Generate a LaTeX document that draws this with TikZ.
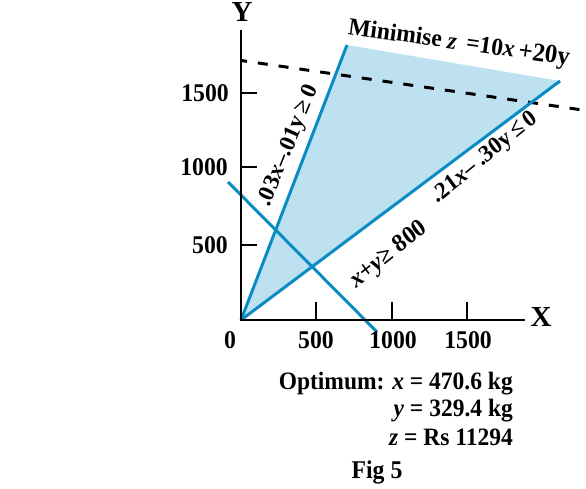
\documentclass[tikz,border=0pt]{standalone}
\usepackage{fontspec}
\setmainfont{Liberation Serif}
\definecolor{lpblue}{RGB}{10,140,195}
\definecolor{lpfill}{RGB}{190,225,242}
\begin{document}
\begin{tikzpicture}[x=1pt,y=-1pt,
  axis/.style={line width=2.6pt,black},
  tick/.style={line width=2.4pt,black},
  cline/.style={line width=3pt,lpblue},
  lbl/.style={font=\fontsize{25.5}{27}\selectfont\bfseries,inner sep=0pt,xscale=0.93},
  axl/.style={font=\fontsize{29}{30}\selectfont\bfseries,inner sep=0pt},
  rlbl/.style={font=\fontsize{24}{26}\selectfont\bfseries,inner sep=0pt,xscale=0.95},
  res/.style={font=\fontsize{25}{27}\selectfont\bfseries,inner sep=0pt,anchor=east,xscale=0.94}]
\useasboundingbox (0,0) rectangle (586,489);
% key points
\coordinate (O) at (241,320);
\coordinate (Ytop) at (241,30);
\coordinate (Xend) at (525,320);
\coordinate (A) at (347,45);
\coordinate (B) at (560,81);
\coordinate (P1) at (228,182);
\coordinate (P2) at (377,332);
\coordinate (D1) at (241,60.5);
\coordinate (D2) at (586,110.5);
% feasible region
\fill[lpfill] (O) -- (A) -- (B) -- cycle;
% objective line (dashed)
\draw[line width=3pt,black,dash pattern=on 10pt off 11pt,dash phase=4pt] (D1) -- (D2);
% constraint lines
\draw[cline] (O) -- (A);
\draw[cline] (O) -- (B);
\draw[cline] (P1) -- (P2);
% axes
\draw[axis] (Ytop) -- (O) -- (Xend);
\foreach \n/\y in {t15/93,t10/167,t05/245}{
  \coordinate (\n a) at (241,\y); \coordinate (\n b) at (257,\y);
  \draw[tick] (\n a) -- (\n b);}
\foreach \n/\x in {s05/316,s10/392,s15/467}{
  \coordinate (\n a) at (\x,320); \coordinate (\n b) at (\x,302);
  \draw[tick] (\n a) -- (\n b);}
% axis labels
\node[axl] (Ylab) at (242,12) {Y};
\node[axl] (Xlab) at (541,317) {X};
\node[lbl,anchor=east] (y15) at (229,93) {1500};
\node[lbl,anchor=east] (y10) at (228,167) {1000};
\node[lbl,anchor=east] (y05) at (228,245) {500};
\node[lbl] (x0) at (230,340) {0};
\node[lbl] (x05) at (316,340) {500};
\node[lbl] (x10) at (393,340) {1000};
\node[lbl] (x15) at (468,340) {1500};
% line labels
\node[rlbl,rotate=67] (c1) at (289,146) {.03\textit{x}–.01y\,≥\,0};
\node[rlbl,rotate=38] (c2) at (485,158) {.21\textit{x}– .30y\,≤\,0};
\node[rlbl,rotate=37,font=\fontsize{25}{26}\selectfont\bfseries] (c3) at (389,255) {\textit{x}+\textit{y}≥ 800};
\node[font=\fontsize{24.5}{26}\selectfont\bfseries,inner sep=0pt,rotate=-8,xscale=0.96] (obj) at (459,44) {Minimise \textit{z} \,=10\textit{x}\,{\fontsize{26}{26}\selectfont+20y}};
% result
\node[res] (r1) at (513,384) {Optimum: \textit{x} = 470.6 kg};
\node[res] (r2) at (513,411) {\textit{y} = 329.4 kg};
\node[res] (r3) at (513,437) {\textit{z} = Rs 11294};
\node[lbl] (fig) at (377,472) {Fig 5};
\end{tikzpicture}
\end{document}
